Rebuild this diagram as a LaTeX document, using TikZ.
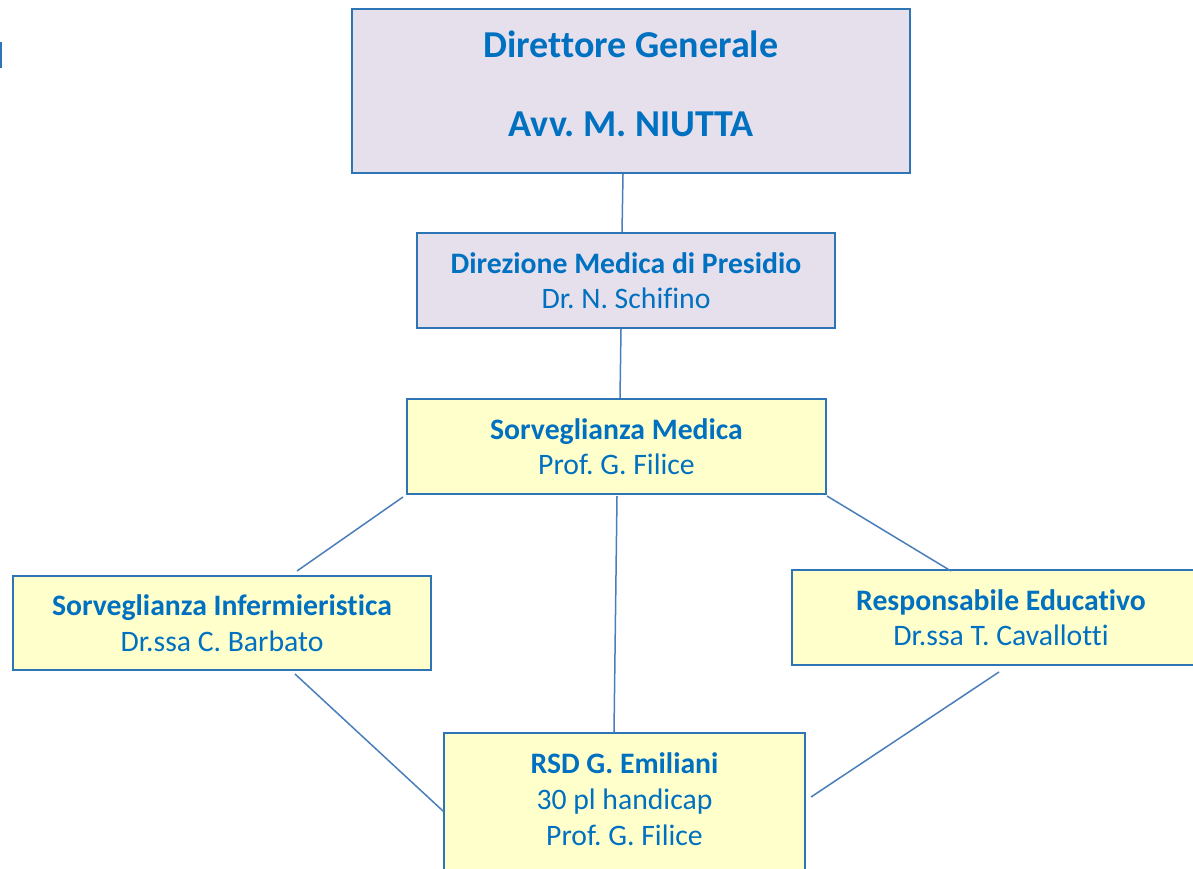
\documentclass[tikz,border=0pt]{standalone}
\usepackage{fontspec}
\setmainfont[Ligatures=NoCommon]{Carlito}
\frenchspacing
\usetikzlibrary{calc}
\definecolor{txtblue}{HTML}{0070C0}
\definecolor{boxline}{HTML}{2E75B6}
\definecolor{conn}{HTML}{4A7EBB}
\definecolor{lav}{HTML}{E6E0EC}
\definecolor{yel}{HTML}{FFFFCC}
\tikzset{
  orgbox/.style={draw=boxline, line width=2pt, inner sep=0pt, text=txtblue, align=center,
    font=\fontsize{29.7}{35.5}\selectfont},
  lavbox/.style={orgbox, fill=lav},
  yelbox/.style={orgbox, fill=yel},
  conline/.style={draw=conn, line width=1.5pt}
}
\begin{document}
\begin{tikzpicture}[x=1pt,y=-1pt]
\useasboundingbox (0,0) rectangle (1193,869);
\fill[boxline] (0,42) rectangle (1.5,68);
\node[lavbox, minimum width=558pt, minimum height=164pt] (dg) at (631,91) {};
\node[font=\fontsize{38}{39.5}\selectfont\bfseries, text=txtblue, align=center, inner sep=0pt]
  (dgtext) at (631,84) {Direttore Generale\\[39.5pt]Avv. M. NIUTTA};
\node[lavbox, minimum width=418pt, minimum height=95pt] (dm) at (626,280.5)
  {\textbf{Direzione Medica di Presidio}\\Dr. N. Schifino};
\node[yelbox, minimum width=419pt, minimum height=95pt] (sm) at (616.5,446.5)
  {\textbf{Sorveglianza Medica}\\Prof. G. Filice};
\node[yelbox, minimum width=418pt, minimum height=94pt] (si) at (222,623)
  {\textbf{Sorveglianza Infermieristica}\\Dr.ssa C. Barbato};
\node[yelbox, minimum width=418pt, minimum height=95pt] (re) at (1001,617.5)
  {\textbf{Responsabile Educativo}\\Dr.ssa T. Cavallotti};
\node[yelbox, minimum width=361pt, minimum height=147pt] (rsd) at (624.5,806.5) {};
\node[text=txtblue, align=center, inner sep=0pt, font=\fontsize{29.7}{36}\selectfont]
  (rsdtext) at (624.5,799) {\textbf{RSD G. Emiliani}\\30 pl handicap\\Prof. G. Filice};
\draw[conline] ($(dg.south)+(-8,0)$) -- ($(dm.north)+(-4,0)$);
\draw[conline] ($(dm.south)+(-5,0)$) -- ($(sm.north)+(3.5,0)$);
\draw[conline] ($(sm.south)+(0.5,1)$) -- ($(rsd.north)+(-10.5,0)$);
\draw[conline] ($(sm.south west)+(-3,2)$) -- ($(si.north)+(75,-4)$);
\draw[conline] ($(sm.south east)+(0,1)$) -- ($(re.north)+(-50,2)$);
\draw[conline] ($(si.south)+(73,3)$) -- ($(rsd.west)+(0,4.5)$);
\draw[conline] ($(re.south)+(-2,6)$) -- ($(rsd.east)+(5,-9.5)$);
\end{tikzpicture}
\end{document}
